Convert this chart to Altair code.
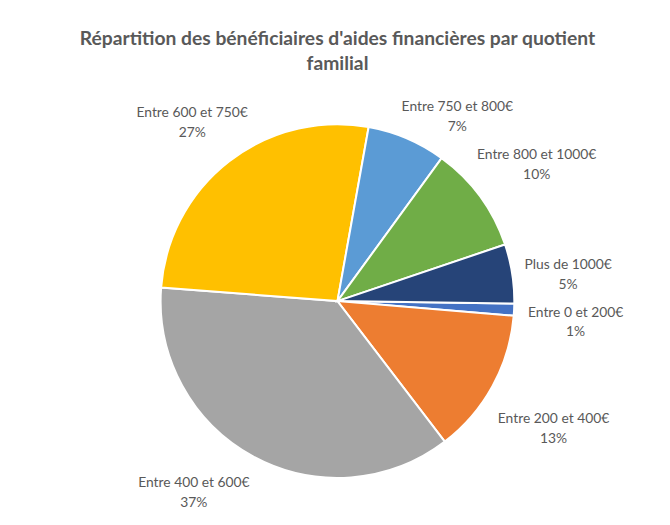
import math
import altair as alt
import pandas as pd

categories = [
    "Entre 0 et 200€",
    "Entre 200 et 400€",
    "Entre 400 et 600€",
    "Entre 600 et 750€",
    "Entre 750 et 800€",
    "Entre 800 et 1000€",
    "Plus de 1000€",
]
values = [1.1, 13.3, 36.6, 26.6, 7.2, 9.8, 5.4]
colors = ["#4472C4", "#ED7D31", "#A5A5A5", "#FFC000", "#5B9BD5", "#70AD47", "#264478"]
title_lines = ["Répartition des bénéficiaires d'aides financières par quotient", "familial"]

total = sum(values)
df = pd.DataFrame({
    "cat": categories,
    "value": values,
    "idx": list(range(len(categories))),
    "label": [f"{c}\n{int(v / total * 100 + 0.5)}%" for c, v in zip(categories, values)],
})

start = math.radians(90.8)
R = 179
TOP_LIMIT = 196     # label centres stay below the title ...
BOTTOM_LIMIT = 184  # ... and above the bottom edge (pixels from the pie centre)
FONT = "Lato"
GREY = "#595959"

pie = alt.Chart(df).mark_arc(outerRadius=R, stroke="white", strokeWidth=2).encode(
    theta=alt.Theta("value:Q", stack=True, scale=alt.Scale(range=[start, start + 2 * math.pi])),
    order=alt.Order("idx:Q"),
    color=alt.Color("cat:N", scale=alt.Scale(domain=categories, range=colors), sort=None, legend=None),
)

# labels sit just outside the pie at each slice's middle angle; the distance grows
# with the label box so the text never touches the pie, and labels that would leave
# the plot area slide sideways along their circle
labels = (
    alt.Chart(df)
    .transform_window(cum="sum(value)", sort=[{"field": "idx"}], frame=[None, 0])
    .transform_joinaggregate(tot="sum(value)")
    .transform_calculate(
        mid=f"(datum.cum - datum.value / 2) / datum.tot * 2 * PI + {start}",
    )
    .transform_calculate(
        lr=f"{R} + 12 + 3.3 * length(datum.cat) * abs(sin(datum.mid)) + 19 * abs(cos(datum.mid))",
    )
    .transform_calculate(
        lt=(
            f"(datum.lr * cos(datum.mid) > {TOP_LIMIT}) ? "
            f"(sin(datum.mid) >= 0 ? acos({TOP_LIMIT} / datum.lr) : 2 * PI - acos({TOP_LIMIT} / datum.lr)) : "
            f"((-datum.lr * cos(datum.mid) > {BOTTOM_LIMIT}) ? "
            f"(sin(datum.mid) >= 0 ? PI - acos({BOTTOM_LIMIT} / datum.lr) : PI + acos({BOTTOM_LIMIT} / datum.lr)) : "
            f"datum.mid)"
        ),
    )
    .mark_text(fontSize=14, font=FONT, color=GREY, lineBreak="\n", lineHeight=20, baseline="middle")
    .encode(
        theta=alt.Theta("lt:Q", scale=None, stack=False),
        radius=alt.Radius("lr:Q", scale=None),
        text="label:N",
    )
)

chart = (pie + labels).properties(
    width=657,
    height=431,
    padding={"left": 5, "right": 0, "top": 78, "bottom": 8},
    autosize=alt.AutoSizeParams(type="none"),
    title=alt.TitleParams(
        text=title_lines,
        font=FONT,
        fontSize=19.5,
        fontWeight="bold",
        color=GREY,
        lineHeight=25,
        anchor="middle",
        offset=14,
    ),
).resolve_scale(theta="independent", radius="independent").configure_view(stroke=None)

chart.save("out.html", embed_options={"renderer": "svg", "actions": False})
